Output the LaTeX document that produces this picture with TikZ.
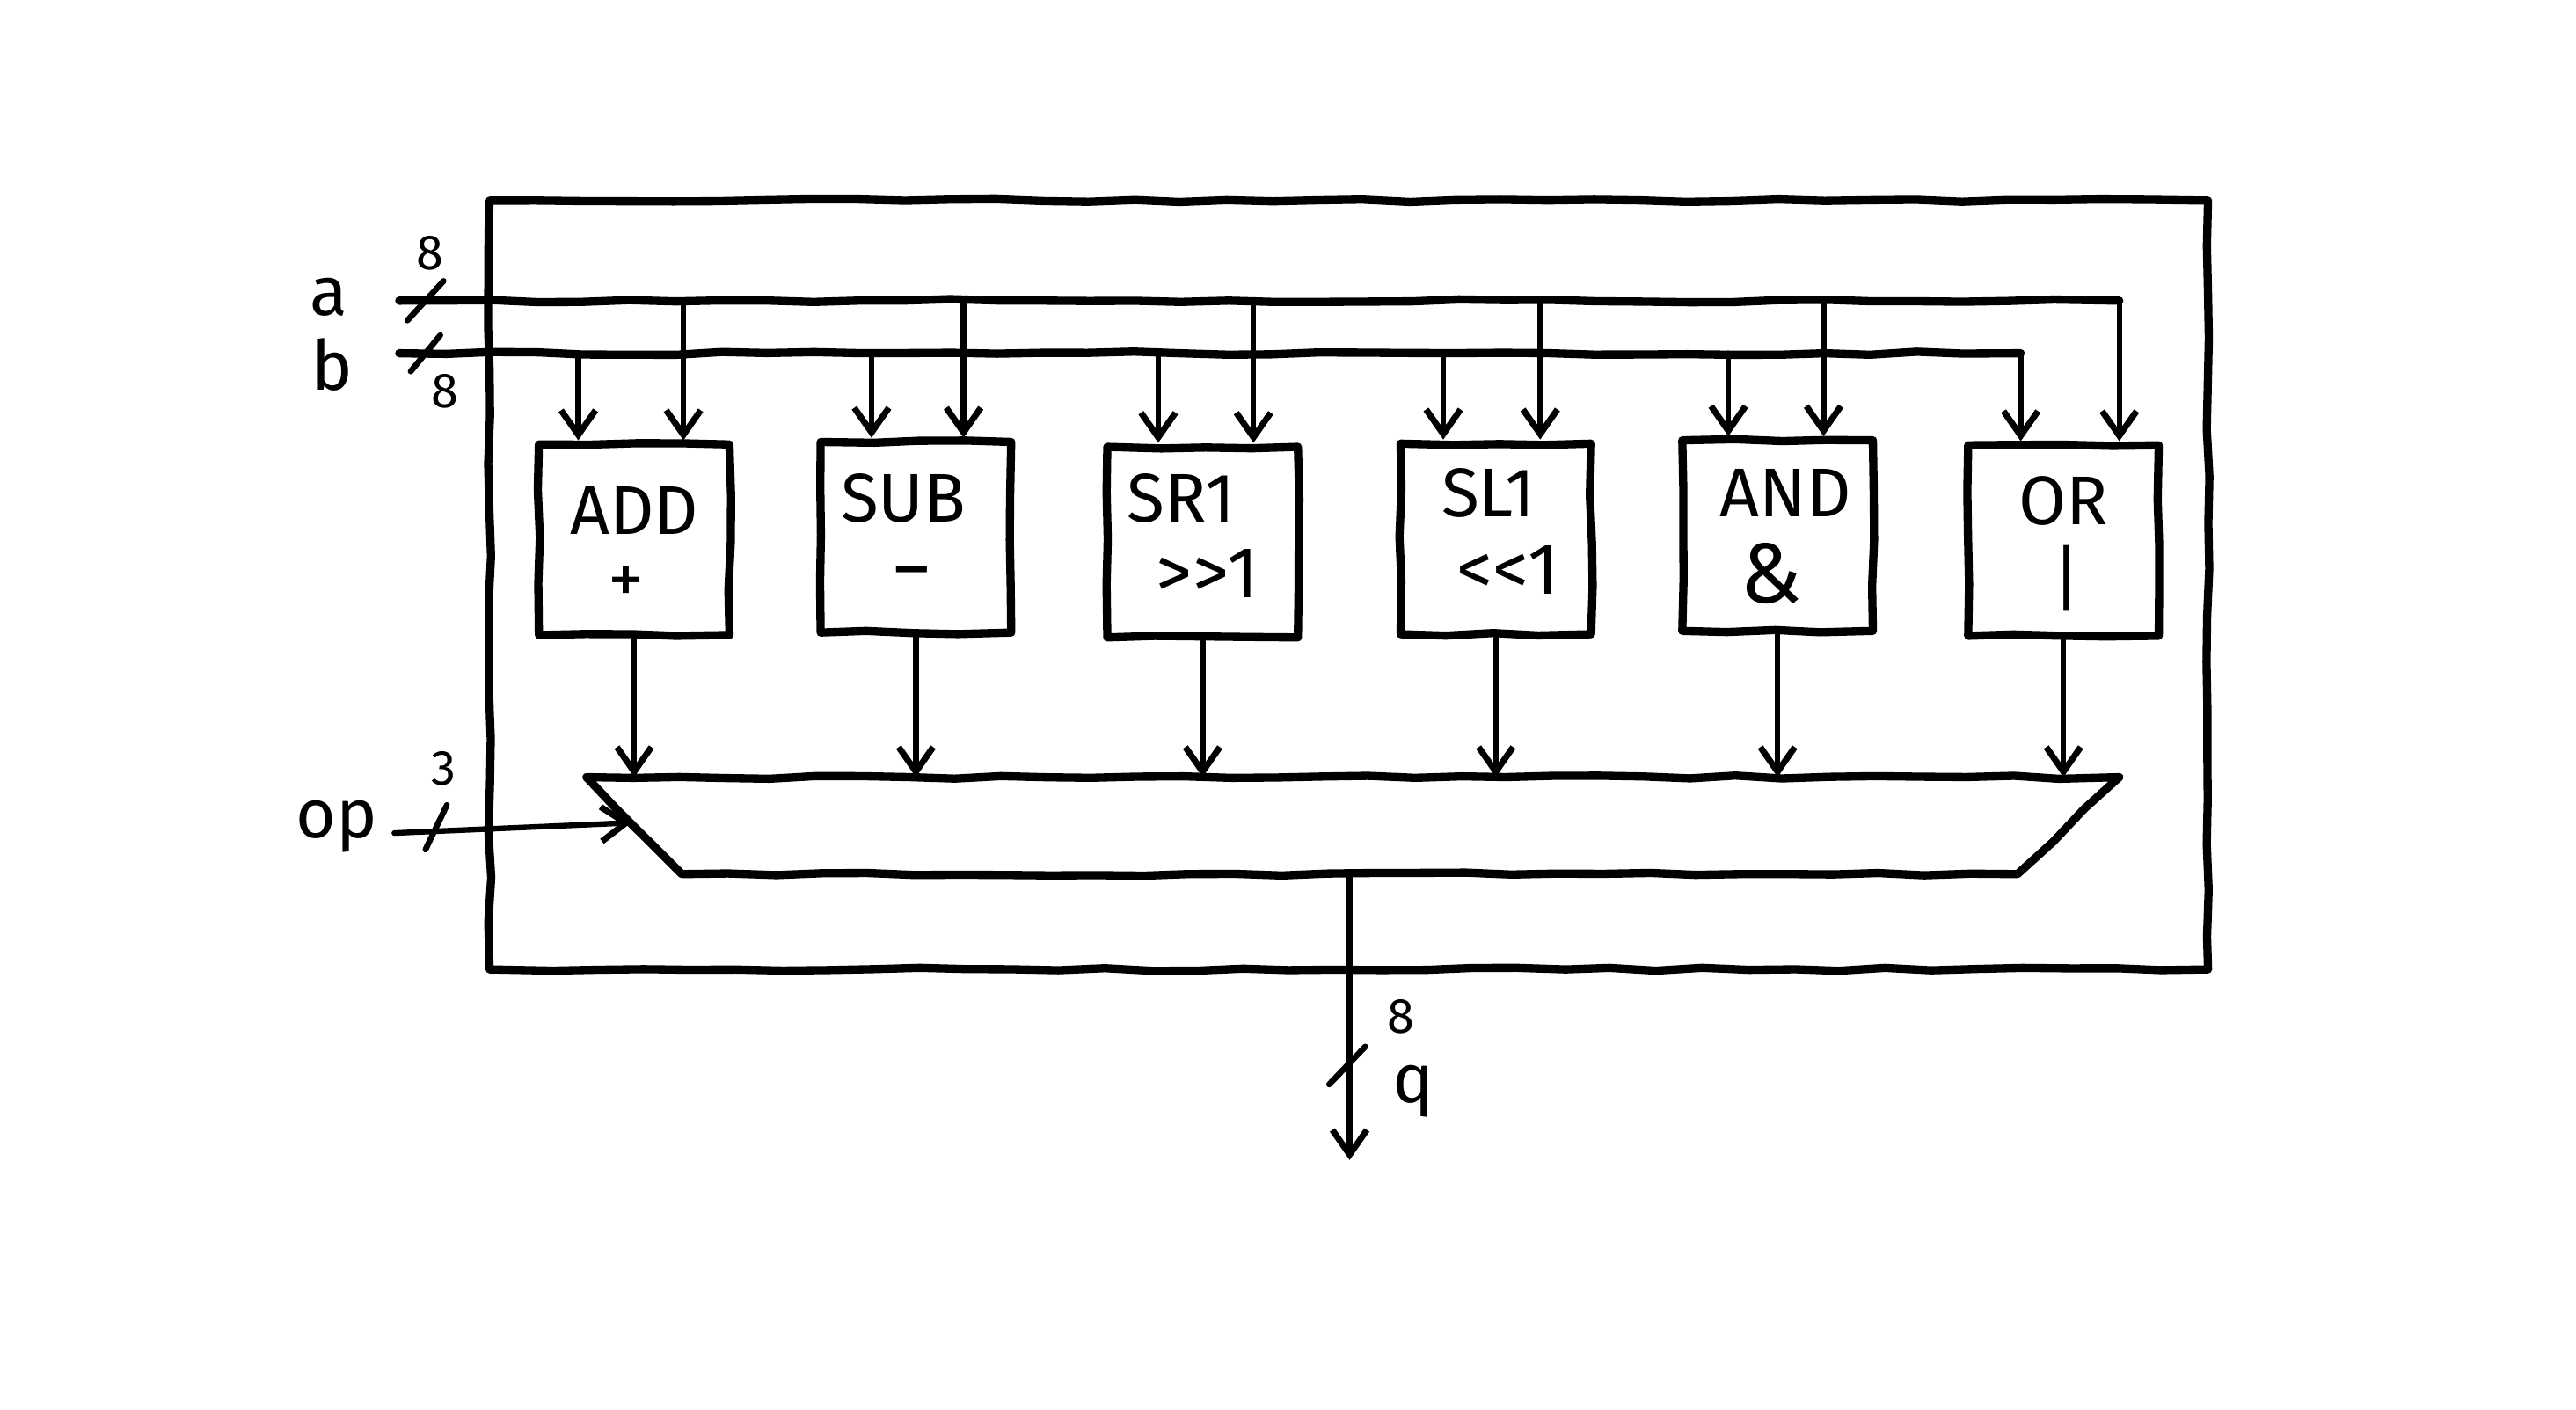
\documentclass[tikz,border=0pt]{standalone}
\usepackage{fontspec}
\setmainfont{Fira Sans}
\usetikzlibrary{arrows.meta,decorations.pathmorphing,calc}

\begin{document}
\begin{tikzpicture}[x=1pt,y=-1pt,
  wire/.style={line width=3.4pt, line cap=round, line join=round},
  heavy/.style={line width=5pt, line cap=round, line join=round},
  sketch/.style={decorate, decoration={random steps, segment length=28pt, amplitude=1pt}},
  arr/.style={wire, -{Straight Barb[length=15pt,width=21pt,line width=3.8pt]}},
  unit/.style={draw, line width=5pt, line join=round, minimum width=116pt,
               minimum height=116pt, inner sep=0pt, sketch},
  lbl/.style={inner sep=0pt, font=\fontsize{42}{46}\selectfont},
  sym/.style={inner sep=0pt, font=\fontsize{44}{48}\selectfont},
  small/.style={inner sep=0pt, font=\fontsize{30}{34}\selectfont},
  tick/.style={line width=3.6pt, line cap=round}]
\pgfmathsetseed{11}
\useasboundingbox (0,0) rectangle (1568,858);
\fill[white] (0,0) rectangle (1568,858);

% enclosing ALU outline
\draw[heavy, sketch] (298,122) -- (1344,122) -- (1344,590) -- (298,590) -- cycle;

% functional units
\node[unit] (add) at (386,328.5) {};
\node[unit] (sub) at (557.5,327) {};
\node[unit] (srl) at (732,330) {};
\node[unit] (sll) at (910.5,328) {};
\node[unit] (and) at (1082,326) {};
\node[unit] (or)  at (1256,329) {};

\node[lbl] at (386,311) {ADD};
\node[sym] at (381,356) {+};
\node[lbl] at (550,303) {SUB};
\node[sym, font=\fontsize{50}{54}\selectfont] at (555,354) {−};
\node[lbl] at (719,303) {SR1};
\node[sym] at (735,349) {{>}{>}1};
\node[lbl] at (906,300) {SL1};
\node[sym] at (918,347) {{<}{<}1};
\node[lbl] at (1087,300) {AND};
\node[sym, font=\fontsize{52}{56}\selectfont] at (1078,349) {\&};
\node[lbl] at (1256,305) {OR};
\node[sym] at (1258,352) {|};

% input ports
\coordinate (ain) at (243,183);
\coordinate (bin) at (243,215);
\node[lbl, anchor=center] (alab) at (200,181) {a};
\node[lbl, anchor=center] (blab) at (202,222) {b};

% operand taps
\coordinate (addB) at ([xshift=-34pt]add.north);
\coordinate (addA) at ([xshift=30pt]add.north);
\coordinate (subB) at ([xshift=-27pt]sub.north);
\coordinate (subA) at ([xshift=29pt]sub.north);
\coordinate (srlB) at ([xshift=-27pt]srl.north);
\coordinate (srlA) at ([xshift=31pt]srl.north);
\coordinate (sllB) at ([xshift=-32pt]sll.north);
\coordinate (sllA) at ([xshift=27pt]sll.north);
\coordinate (andB) at ([xshift=-30pt]and.north);
\coordinate (andA) at ([xshift=28pt]and.north);
\coordinate (orB)  at ([xshift=-26pt]or.north);
\coordinate (orA)  at ([xshift=34pt]or.north);

% operand buses
\draw[heavy, sketch] (ain) -- (orA |- ain);
\draw[heavy, sketch] (bin) -- (orB |- bin);
\foreach \t in {addA,subA,srlA,sllA,andA,orA}
  \draw[arr] (\t |- ain) -- (\t);
\foreach \t in {addB,subB,srlB,sllB,andB,orB}
  \draw[arr] (\t |- bin) -- (\t);

% bus width marks
\draw[tick] (248,195) -- (270,171);
\node[small] at (262,154) {8};
\draw[tick] (250,226) -- (268,204);
\node[small] at (271,238) {8};

% result multiplexer
\coordinate (muxtl) at (357,473);
\coordinate (muxtr) at (1290,473);
\coordinate (muxbr) at (1228,532);
\coordinate (muxbl) at (415,532);
\draw[heavy, sketch] (muxtl) -- (muxtr) -- (muxbr) -- (muxbl) -- cycle;

\foreach \u in {add,sub,srl,sll,and,or}
  \draw[arr] (\u.south) -- (\u.south |- muxtl);

% operation select
\coordinate (opin) at (240,507);
\coordinate (sel) at ($(muxtl)!0.47!(muxbl)$);
\node[lbl] (oplab) at (205,503) {op};
\draw[arr] (opin) -- (sel);
\draw[tick] (259,517) -- (272,490);
\node[small] at (270,468) {3};

% result output
\coordinate (muxout) at ($(muxbl)!0.5!(muxbr)$);
\coordinate (qend) at (muxout |- 0,706);
\draw[arr] (muxout) -- (qend);
\draw[tick] (809,660) -- (831,637);
\node[small] at (853,619) {8};
\node[lbl] (qlab) at (860,664) {q};
\end{tikzpicture}
\end{document}
